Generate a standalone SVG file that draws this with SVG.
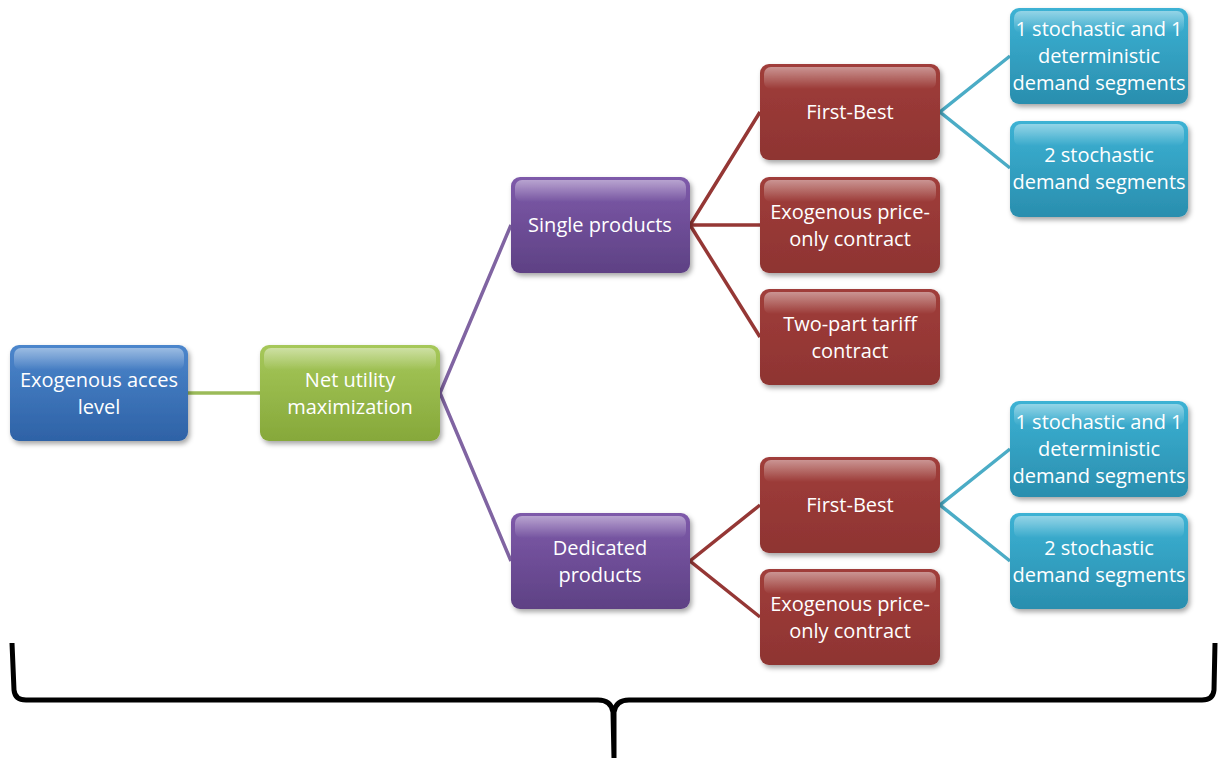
<svg xmlns="http://www.w3.org/2000/svg" width="1219" height="758" viewBox="0 0 1219 758">
<defs>
<linearGradient id="gBlue" x1="0" y1="0" x2="0" y2="1"><stop offset="0" stop-color="#4C86CC"/><stop offset="1" stop-color="#2E62A6"/></linearGradient>
<linearGradient id="gGreen" x1="0" y1="0" x2="0" y2="1"><stop offset="0" stop-color="#A6C85A"/><stop offset="1" stop-color="#86A83A"/></linearGradient>
<linearGradient id="gPurple" x1="0" y1="0" x2="0" y2="1"><stop offset="0" stop-color="#7E5AAA"/><stop offset="1" stop-color="#5E4184"/></linearGradient>
<linearGradient id="gRed" x1="0" y1="0" x2="0" y2="1"><stop offset="0" stop-color="#A03D3A"/><stop offset="1" stop-color="#8E3432"/></linearGradient>
<linearGradient id="gCyan" x1="0" y1="0" x2="0" y2="1"><stop offset="0" stop-color="#3CB2D4"/><stop offset="1" stop-color="#2A8EAE"/></linearGradient>
<linearGradient id="gHi" x1="0" y1="0" x2="0" y2="1"><stop offset="0" stop-color="#fff" stop-opacity="0.45"/><stop offset="1" stop-color="#fff" stop-opacity="0"/></linearGradient>
<filter id="sh" x="-10%" y="-10%" width="125%" height="130%"><feDropShadow dx="2" dy="3" stdDeviation="2.5" flood-color="#000" flood-opacity="0.35"/></filter>
</defs>
<style>
.box{filter:url(#sh);}
.hi{fill:url(#gHi);}
.t{font-family:"Open Sans","Liberation Sans",sans-serif;font-size:20px;fill:#fff;text-anchor:middle;}
.c{fill:none;stroke-width:3.5;}
.cg{stroke:#9BBB59;}
.cp{stroke:#8064A2;}
.cr{stroke:#953735;}
.cc{stroke:#4BACC6;}
.brace{fill:none;stroke:#000;stroke-width:5;stroke-linejoin:round;}
</style>
<g id="connectors">
<line class="c cg" x1="188" y1="393" x2="260" y2="393"/>
<polyline class="c cp" points="511,225 440,393 511,561"/>
<polyline class="c cr" points="760,112 690,225 760,225"/>
<line class="c cr" x1="690" y1="225" x2="760" y2="337"/>
<polyline class="c cr" points="760,505 690,561 760,617"/>
<polyline class="c cc" points="1010,56 940,112 1010,168"/>
<polyline class="c cc" points="1010,449 940,505 1010,561"/>
</g>
<g id="n1"><rect class="box" x="10" y="345" width="178" height="96" rx="9" fill="url(#gBlue)"/><rect class="hi" x="14" y="348" width="170" height="22" rx="7"/><text class="t" x="99" y="387">Exogenous acces</text><text class="t" x="99" y="414">level</text></g>
<g id="n2"><rect class="box" x="260" y="345" width="180" height="96" rx="9" fill="url(#gGreen)"/><rect class="hi" x="264" y="348" width="172" height="22" rx="7"/><text class="t" x="350" y="387">Net utility</text><text class="t" x="350" y="414">maximization</text></g>
<g id="n3"><rect class="box" x="511" y="177" width="179" height="96" rx="9" fill="url(#gPurple)"/><rect class="hi" x="515" y="180" width="171" height="22" rx="7"/><text class="t" x="600" y="232">Single products</text></g>
<g id="n4"><rect class="box" x="511" y="513" width="179" height="96" rx="9" fill="url(#gPurple)"/><rect class="hi" x="515" y="516" width="171" height="22" rx="7"/><text class="t" x="600" y="555">Dedicated</text><text class="t" x="600" y="582">products</text></g>
<g id="n5"><rect class="box" x="760" y="64" width="180" height="96" rx="9" fill="url(#gRed)"/><rect class="hi" x="764" y="67" width="172" height="22" rx="7"/><text class="t" x="850" y="119">First-Best</text></g>
<g id="n6"><rect class="box" x="760" y="177" width="180" height="96" rx="9" fill="url(#gRed)"/><rect class="hi" x="764" y="180" width="172" height="22" rx="7"/><text class="t" x="850" y="219">Exogenous price-</text><text class="t" x="850" y="246">only contract</text></g>
<g id="n7"><rect class="box" x="760" y="289" width="180" height="96" rx="9" fill="url(#gRed)"/><rect class="hi" x="764" y="292" width="172" height="22" rx="7"/><text class="t" x="850" y="331">Two-part tariff</text><text class="t" x="850" y="358">contract</text></g>
<g id="n8"><rect class="box" x="760" y="457" width="180" height="96" rx="9" fill="url(#gRed)"/><rect class="hi" x="764" y="460" width="172" height="22" rx="7"/><text class="t" x="850" y="512">First-Best</text></g>
<g id="n9"><rect class="box" x="760" y="569" width="180" height="96" rx="9" fill="url(#gRed)"/><rect class="hi" x="764" y="572" width="172" height="22" rx="7"/><text class="t" x="850" y="611">Exogenous price-</text><text class="t" x="850" y="638">only contract</text></g>
<g id="n10"><rect class="box" x="1010" y="8" width="178" height="96" rx="9" fill="url(#gCyan)"/><rect class="hi" x="1014" y="11" width="170" height="22" rx="7"/><text class="t" x="1099" y="36">1 stochastic and 1</text><text class="t" x="1099" y="63">deterministic</text><text class="t" x="1099" y="90">demand segments</text></g>
<g id="n11"><rect class="box" x="1010" y="121" width="178" height="96" rx="9" fill="url(#gCyan)"/><rect class="hi" x="1014" y="124" width="170" height="22" rx="7"/><text class="t" x="1099" y="162">2 stochastic</text><text class="t" x="1099" y="189">demand segments</text></g>
<g id="n12"><rect class="box" x="1010" y="401" width="178" height="96" rx="9" fill="url(#gCyan)"/><rect class="hi" x="1014" y="404" width="170" height="22" rx="7"/><text class="t" x="1099" y="429">1 stochastic and 1</text><text class="t" x="1099" y="456">deterministic</text><text class="t" x="1099" y="483">demand segments</text></g>
<g id="n13"><rect class="box" x="1010" y="513" width="178" height="96" rx="9" fill="url(#gCyan)"/><rect class="hi" x="1014" y="516" width="170" height="22" rx="7"/><text class="t" x="1099" y="555">2 stochastic</text><text class="t" x="1099" y="582">demand segments</text></g>
<g id="brace"><path class="brace" d="M12,643 L14,690 Q15,700 26,700 L598,700 Q611,700 613,712 L614,758 M614,758 L614,712 Q616,700 629,700 L1202,700 Q1213,700 1214,690 L1215,643"/></g>
</svg>
